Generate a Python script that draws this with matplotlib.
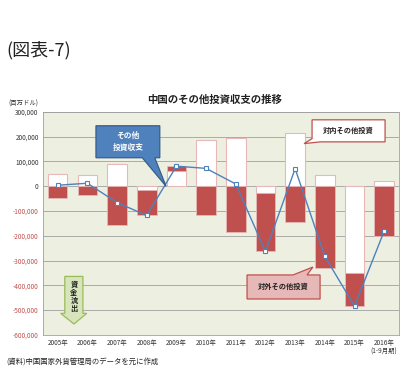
import numpy as np
import matplotlib
matplotlib.use("Agg")
import matplotlib.pyplot as plt
from matplotlib.patches import Polygon
from matplotlib.ticker import FuncFormatter

plt.rcParams['font.family'] = ['Noto Sans CJK JP', 'DejaVu Sans']

years = ['2005年', '2006年', '2007年', '2008年', '2009年', '2010年', '2011年',
         '2012年', '2013年', '2014年', '2015年', '2016年\n(1-9月期)']
# 対内その他投資 (inflow), 対外その他投資 (outflow), その他投資収支 (net), 百万ドル
inflow = [50000, 45000, 89000, -15000, 63000, 187000, 194000, -28000, 215000, 47000, -352000, 20000]
outflow = [-46000, -34000, -157000, -101000, 20000, -116000, -186000, -234000, -143000, -332000, -131000, -200000]
net = [4000, 12000, -66000, -118000, 81000, 72000, 9000, -263000, 71000, -283000, -484000, -181000]

red = '#C0504D'
blue = '#4F81BD'

fig = plt.figure(figsize=(4.08, 3.78), dpi=100)
ax = fig.add_axes([0.105, 0.114, 0.873, 0.59])
ax.set_facecolor('#EDF0E0')

x = np.arange(len(years))
inflow = np.array(inflow)
outflow = np.array(outflow)
# Excel-style stacking: positives stack up, negatives stack down
bottom_out = np.where(np.sign(outflow) == np.sign(inflow), inflow, 0)
w = 0.66
ax.bar(x, inflow, w, color='white', edgecolor='#E6B9B8', linewidth=0.8, zorder=2)
ax.bar(x, outflow, w, bottom=bottom_out, color=red, edgecolor='#E6B9B8', linewidth=0.6, zorder=2)
ax.plot(x, net, color=blue, lw=1.0, marker='s', ms=3, mfc='white', mec=blue, mew=0.8, zorder=4)

ax.set_xlim(-0.5, len(years) - 0.5)
ax.set_ylim(-600000, 300000)
ax.set_yticks(np.arange(-600000, 300001, 100000))
ax.yaxis.set_major_formatter(FuncFormatter(lambda v, p: f'{int(v):,}'))
ax.grid(axis='y', color='#A0A0A0', lw=0.6, zorder=0)
ax.set_axisbelow(True)
ax.set_xticks(x)
ax.set_xticklabels(years, fontsize=4.6, color='#333333', linespacing=1.1)
ax.tick_params(axis='both', length=0, pad=3)
ax.tick_params(axis='y', labelsize=4.6)
for lab, v in zip(ax.get_yticklabels(), ax.get_yticks()):
    lab.set_color(red if v < 0 else '#333333')
for s in ax.spines.values():
    s.set_color('#A0A0A0')
    s.set_linewidth(0.6)

fig.text(0.015, 0.867, '(図表-7)', fontsize=13, color='#222222', va='center')
fig.text(0.527, 0.735, '中国のその他投資収支の推移', fontsize=7.5, fontweight='bold',
         ha='center', va='center', color='#222222')
fig.text(0.02, 0.727, '(百万ドル)', fontsize=4.6, va='center', color='#333333')
fig.text(0.015, 0.042, '(資料)中国国家外貨管理局のデータを元に作成', fontsize=5.3,
         va='center', color='#222222')

# callout shapes (box + pointer)
blue_box = [(1.29, 244000), (3.44, 244000), (3.44, 115000), (3.27, 115000),
            (3.65, 0), (2.85, 115000), (1.29, 115000)]
ax.add_patch(Polygon(blue_box, closed=True, fc=blue, ec='#385D8A', lw=0.9, zorder=6))
ax.text(2.37, 180000, 'その他\n投資収支', ha='center', va='center', fontsize=5.6,
        fontweight='bold', color='white', linespacing=1.5, zorder=7)

in_box = [(8.57, 268000), (11.03, 268000), (11.03, 179000), (8.85, 179000),
          (8.3, 172000), (8.57, 192000)]
ax.add_patch(Polygon(in_box, closed=True, fc='white', ec=red, lw=0.9, zorder=6))
ax.text(9.8, 224000, '対内その他投資', ha='center', va='center', fontsize=5.2,
        fontweight='bold', color='#222222', zorder=7)

out_box = [(6.38, -358000), (7.93, -358000), (8.6, -326000), (8.4, -358000),
           (8.84, -358000), (8.84, -455000), (6.38, -455000)]
ax.add_patch(Polygon(out_box, closed=True, fc='#E6B9B8', ec=red, lw=0.9, zorder=6))
ax.text(7.61, -406000, '対外その他投資', ha='center', va='center', fontsize=5.2,
        fontweight='bold', color='#222222', zorder=7)

# green outflow arrow
arrow = [(0.24, -364000), (0.85, -364000), (0.85, -513000), (0.98, -513000),
         (0.55, -556000), (0.1, -513000), (0.24, -513000)]
ax.add_patch(Polygon(arrow, closed=True, fc='#D7E4BC', ec='#9BBB59', lw=0.9, zorder=5))
for ch, yv in zip('資金流出', [-398000, -430000, -462000, -494000]):
    ax.text(0.55, yv, ch, ha='center', va='center', fontsize=5.2,
            fontweight='bold', color='#222222', zorder=6)

fig.savefig('out.png', dpi=100)
